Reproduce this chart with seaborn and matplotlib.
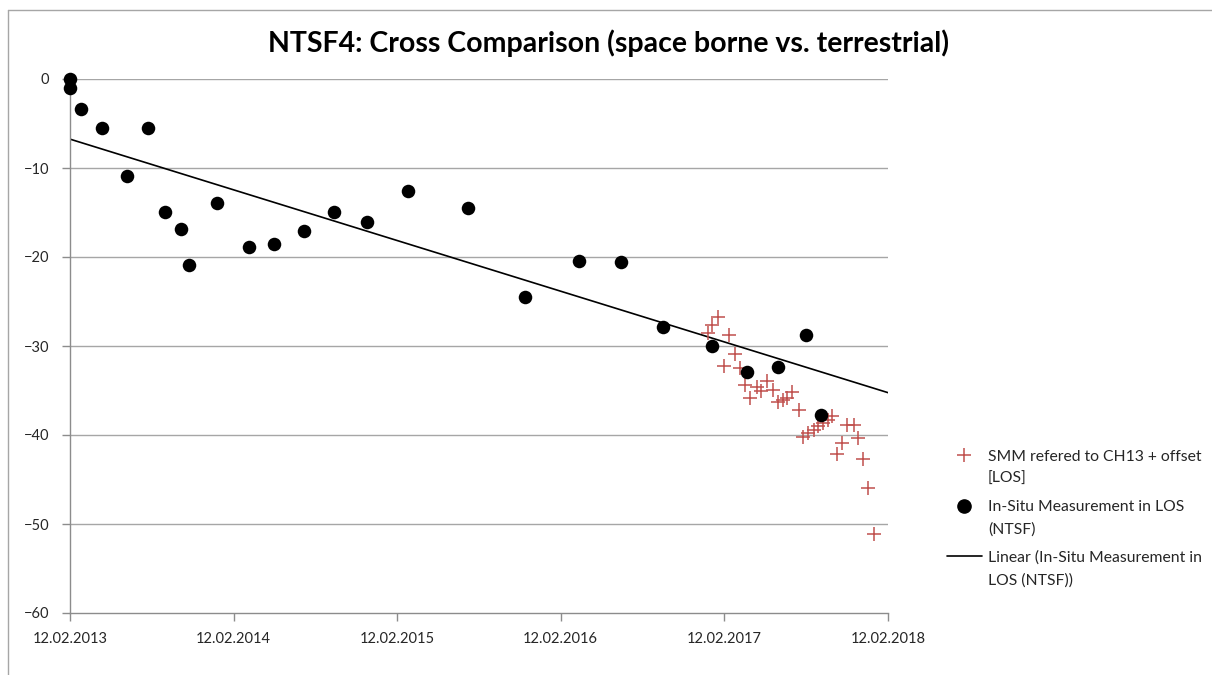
import matplotlib
matplotlib.use("Agg")
import matplotlib.pyplot as plt
import matplotlib.dates as mdates
from matplotlib.lines import Line2D
import numpy as np
import pandas as pd
import seaborn as sns

# In-situ measurements (line of sight, NTSF)
insitu_dates = [
    "2013-02-12", "2013-02-12", "2013-03-08", "2013-04-24", "2013-06-20",
    "2013-08-06", "2013-09-12", "2013-10-18", "2013-11-05", "2014-01-07",
    "2014-03-19", "2014-05-13", "2014-07-19", "2014-09-24", "2014-12-08",
    "2015-03-08", "2015-07-21", "2015-11-25", "2016-03-24", "2016-06-27",
    "2016-09-28", "2017-01-16", "2017-04-03", "2017-06-12", "2017-08-12",
    "2017-09-16",
]
insitu_values = [
    0.0, -1.0, -3.4, -5.5, -10.9,
    -5.5, -14.9, -16.9, -20.9, -13.9,
    -18.9, -18.5, -17.1, -14.9, -16.1,
    -12.6, -14.5, -24.5, -20.4, -20.6,
    -27.9, -30.0, -32.9, -32.4, -28.8,
    -37.8,
]

# SMM series referred to CH13 plus offset
smm_dates = [
    "2017-01-07", "2017-01-16", "2017-01-28", "2017-02-12", "2017-02-23",
    "2017-03-08", "2017-03-18", "2017-03-29", "2017-04-11", "2017-04-25",
    "2017-05-05", "2017-05-19", "2017-06-01", "2017-06-11", "2017-06-23",
    "2017-07-02", "2017-07-13", "2017-07-29", "2017-08-07", "2017-08-18",
    "2017-08-30", "2017-09-09", "2017-09-21", "2017-10-01", "2017-10-10",
    "2017-10-21", "2017-11-01", "2017-11-13", "2017-11-28", "2017-12-07",
    "2017-12-19", "2017-12-30", "2018-01-12",
]
smm_values = [
    -28.5, -27.6, -26.7, -32.3, -28.8,
    -30.9, -32.5, -34.4, -35.8, -34.6,
    -35.0, -33.9, -34.9, -36.3, -36.1,
    -35.8, -35.2, -37.2, -40.2, -39.8,
    -39.4, -39.0, -38.7, -38.3, -37.9,
    -42.1, -40.9, -38.9, -38.9, -40.3,
    -42.7, -45.9, -51.1,
]

tick_dates = ["2013-02-12", "2014-02-12", "2015-02-12",
              "2016-02-12", "2017-02-12", "2018-02-12"]
y_ticks = [0, -10, -20, -30, -40, -50, -60]

title = "NTSF4: Cross Comparison (space borne vs. terrestrial)"
label_smm = "SMM refered to CH13 + offset\n[LOS]"
label_insitu = "In-Situ Measurement in LOS\n(NTSF)"
label_trend = "Linear (In-Situ Measurement in\nLOS (NTSF))"

insitu = pd.DataFrame({"t": mdates.date2num(pd.to_datetime(insitu_dates)),
                       "v": insitu_values})
smm = pd.DataFrame({"t": mdates.date2num(pd.to_datetime(smm_dates)),
                    "v": smm_values})
ticks = mdates.date2num(pd.to_datetime(tick_dates))

sns.set_theme(style="white")
plt.rcParams["font.family"] = ["Lato", "DejaVu Sans"]

fig = plt.figure(figsize=(12.12, 6.75), dpi=100)
ax = fig.add_axes([70 / 1212, 1 - 613 / 675, 818 / 1212, 534 / 675])

ax.set_xlim(ticks[0], ticks[-1])
ax.set_ylim(-60, 0)

grid_col = "#a6a6a6"
for y in y_ticks[:-1]:
    ax.axhline(y, color=grid_col, lw=1.0, zorder=0)

sns.scatterplot(data=smm, x="t", y="v", ax=ax, marker="+", s=110,
                color="#c0504d", linewidth=1.1, label=label_smm, zorder=3)
sns.scatterplot(data=insitu, x="t", y="v", ax=ax, marker="o", s=95,
                color="black", edgecolor="black", linewidth=0,
                label=label_insitu, zorder=4, clip_on=False)
sns.regplot(data=insitu, x="t", y="v", ax=ax, scatter=False, ci=None,
            truncate=False, color="black", line_kws={"lw": 1.2, "zorder": 2},
            label=label_trend)

ax.set_xlim(ticks[0], ticks[-1])
ax.set_ylim(-60, 0)
ax.set_xticks(ticks)
ax.xaxis.set_major_formatter(mdates.DateFormatter("%d.%m.%Y"))
ax.set_yticks(y_ticks)
ax.set_xlabel("")
ax.set_ylabel("")

for side in ("top", "right"):
    ax.spines[side].set_visible(False)
for side in ("left", "bottom"):
    ax.spines[side].set_color("#8c8c8c")
    ax.spines[side].set_linewidth(1.0)
ax.tick_params(axis="both", which="major", direction="out", length=6,
               width=1.0, color="#8c8c8c", labelsize=10.5, labelcolor="#262626",
               left=True, bottom=True)
ax.tick_params(axis="x", pad=8)
ax.tick_params(axis="y", pad=9)

handles = [
    Line2D([], [], ls="none", marker="+", ms=10, mew=1.1, color="#c0504d"),
    Line2D([], [], ls="none", marker="o", ms=9.5, color="black"),
    Line2D([], [], ls="-", lw=1.2, color="black"),
]
leg = ax.legend(handles, [label_smm, label_insitu, label_trend],
                loc="upper left", bbox_to_anchor=(947 / 1212, 1 - 450 / 675),
                bbox_transform=fig.transFigure, frameon=False, fontsize=11.3,
                handlelength=2.2, handletextpad=0.4, labelspacing=0.88,
                borderaxespad=0, borderpad=0)
for txt in leg.get_texts():
    txt.set_color("#262626")
    txt.set_linespacing(1.75)
# put each key beside the first line of its label
for column in leg._legend_handle_box.get_children():
    for row in column.get_children():
        row.align = "top"

fig.text(609 / 1212, 1 - 43 / 675, title, ha="center", va="center",
         fontsize=20.5, fontweight="bold", color="black")

# chart frame (left and top edges)
border = "#a6a6a6"
fig.add_artist(Line2D([8 / 1212, 8 / 1212], [0, 1 - 10 / 675],
                      transform=fig.transFigure, color=border, lw=1.0))
fig.add_artist(Line2D([8 / 1212, 1], [1 - 10 / 675, 1 - 10 / 675],
                      transform=fig.transFigure, color=border, lw=1.0))

fig.savefig("out.png", dpi=100)
